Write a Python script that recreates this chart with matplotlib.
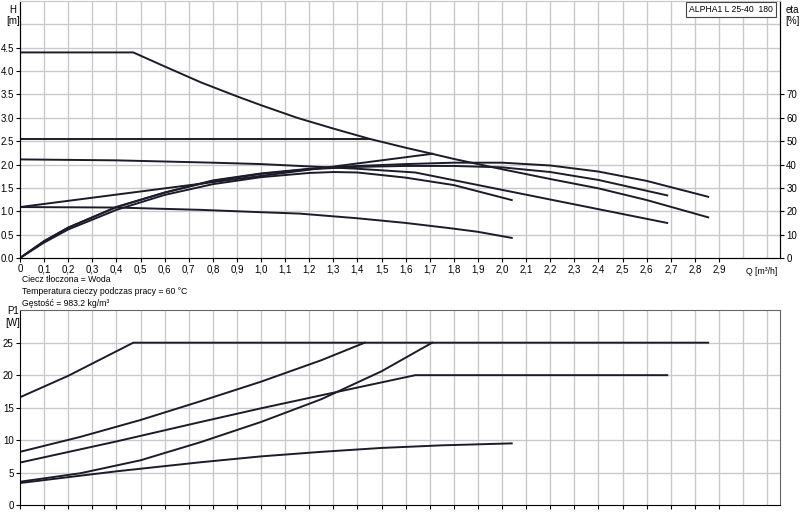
import matplotlib
matplotlib.use("Agg")
import matplotlib.pyplot as plt
import numpy as np

plt.rcParams["font.family"] = ["Liberation Sans", "DejaVu Sans"]

LINE = "#1b1b2a"
GRID = "#c9c9c9"

# head curves H [m] vs Q [m3/h]
q_max = [0, 0.47, 0.6, 0.75, 0.9, 1.0, 1.15, 1.3, 1.45, 1.6, 1.71, 1.8, 1.9, 2.0, 2.2, 2.4, 2.6, 2.855]
h_max = [4.4, 4.4, 4.10, 3.76, 3.46, 3.27, 3.00, 2.77, 2.55, 2.36, 2.23, 2.12, 2.01, 1.90, 1.69, 1.49, 1.24, 0.87]
q_cp = [0, 1.45]
h_cp = [2.55, 2.55]
q_pp = [0, 1.71]
h_pp = [1.09, 2.23]
q_ii = [0, 0.4, 0.8, 1.0, 1.2, 1.4, 1.64, 2.685]
h_ii = [2.11, 2.09, 2.04, 2.01, 1.96, 1.91, 1.83, 0.75]
q_i = [0, 0.4, 0.75, 1.0, 1.16, 1.4, 1.6, 1.78, 1.9, 2.04]
h_i = [1.09, 1.08, 1.03, 0.98, 0.95, 0.85, 0.75, 0.64, 0.56, 0.43]

# efficiency curves eta [%]
q_eta_max = [0, 0.1, 0.2, 0.4, 0.6, 0.8, 1.0, 1.2, 1.4, 1.6, 1.8, 2.0, 2.2, 2.4, 2.6, 2.855]
eta_max = [0, 7.2, 13, 21.8, 28, 33.2, 36.2, 38.2, 39.4, 40.2, 40.8, 40.8, 39.6, 37, 33, 26.2]
q_eta_ii = [0, 0.1, 0.2, 0.4, 0.6, 0.8, 1.0, 1.2, 1.4, 1.6, 1.8, 2.0, 2.2, 2.4, 2.685]
eta_ii = [0, 7.2, 13, 21.8, 28, 33, 36, 38, 39, 39.4, 39.4, 38.8, 36.8, 33.4, 26.8]
q_eta_i = [0, 0.1, 0.2, 0.4, 0.6, 0.8, 1.0, 1.2, 1.3, 1.4, 1.6, 1.8, 2.04]
eta_i = [0, 6.6, 12.2, 20.6, 27.0, 31.6, 34.6, 36.4, 36.8, 36.6, 34.4, 31.2, 24.8]

# power curves P1 [W]
q_p_max = [0, 0.2, 0.47, 2.855]
p_max = [16.6, 19.9, 25, 25]
q_p_cp = [0, 0.25, 0.5, 0.75, 1.0, 1.25, 1.43]
p_cp = [8.2, 10.5, 13.1, 16.0, 19.0, 22.3, 25.0]
q_p_ii = [0, 0.4, 0.75, 1.0, 1.3, 1.64, 2.685]
p_ii = [6.55, 9.8, 12.8, 14.9, 17.3, 20.0, 20.0]
q_p_pp = [0, 0.25, 0.5, 0.75, 1.0, 1.25, 1.5, 1.71]
p_pp = [3.6, 4.9, 6.9, 9.7, 12.8, 16.3, 20.6, 25.0]
q_p_i = [0, 0.4, 0.75, 1.0, 1.25, 1.5, 1.75, 2.04]
p_i = [3.4, 5.2, 6.6, 7.5, 8.2, 8.8, 9.2, 9.5]

q_ticks = [round(0.1 * k, 1) for k in range(30)]
q_labels = ["0"] + [f"{v:.1f}".replace(".", ",") for v in q_ticks[1:]]
XMAX = 3.153

fig = plt.figure(figsize=(8, 5.17), dpi=100)
ax = fig.add_axes([0.025, 0.501, 0.95, 0.497])
ax_eta = ax.twinx()
axp = fig.add_axes([0.025, 0.023, 0.95, 0.377])

for a in (ax, axp):
    a.set_xlim(0, XMAX)
    for v in np.arange(0.1, 3.15, 0.1):
        a.axvline(v, color=GRID, lw=1, zorder=0)
    a.tick_params(axis="both", labelsize=7, length=3, width=0.8, pad=1.5)

ax.set_ylim(0, 5.5)
for v in np.arange(0.5, 5.1, 0.5):
    ax.axhline(v, color=GRID, lw=1, zorder=0)
ax.set_yticks(np.arange(0, 4.6, 0.5))
ax.set_yticklabels([f"{v:.1f}" for v in np.arange(0, 4.6, 0.5)])
ax.set_xticks(q_ticks)
ax.set_xticklabels(q_labels)
ax.text(3.01, -0.2, "Q [m³/h]", fontsize=6.2, ha="left", va="top")

ax_eta.set_ylim(0, 110)
ax_eta.set_yticks(range(0, 71, 10))
ax_eta.tick_params(axis="y", labelsize=7, length=3, width=0.8, pad=1.5)

for q, h in [(q_max, h_max), (q_cp, h_cp), (q_pp, h_pp), (q_ii, h_ii), (q_i, h_i)]:
    ax.plot(q, h, color=LINE, lw=1.4, solid_joinstyle="miter")
for q, e in [(q_eta_max, eta_max), (q_eta_ii, eta_ii), (q_eta_i, eta_i)]:
    ax_eta.plot(q, e, color=LINE, lw=1.4)

for side in ("left", "bottom", "right"):
    ax.spines[side].set_color("black")
    ax_eta.spines[side].set_color("black")
ax.spines["top"].set_color(GRID)
ax_eta.spines["top"].set_color(GRID)

axp.set_ylim(0, 30)
for v in range(5, 26, 5):
    axp.axhline(v, color=GRID, lw=1, zorder=0)
axp.set_yticks(range(0, 26, 5))
axp.set_xticks(q_ticks)
axp.set_xticklabels([])
axp.spines["top"].set_color("#666666")
axp.spines["right"].set_color("#666666")
for q, p in [(q_p_max, p_max), (q_p_cp, p_cp), (q_p_ii, p_ii), (q_p_pp, p_pp), (q_p_i, p_i)]:
    axp.plot(q, p, color=LINE, lw=1.4)

fig.text(0.016, 0.99, "H", fontsize=7, ha="center", va="top")
fig.text(0.016, 0.97, "[m]", fontsize=7, ha="center", va="top")
fig.text(0.99, 0.99, "eta", fontsize=7, ha="center", va="top")
fig.text(0.99, 0.97, "[%]", fontsize=7, ha="center", va="top")
fig.text(0.016, 1 - 311 / 517, "P1", fontsize=7, ha="center", va="center")
fig.text(0.016, 1 - 323 / 517, "[W]", fontsize=7, ha="center", va="center")

fig.text(0.9665, 0.99, "ALPHA1 L 25-40  180", fontsize=6.2, ha="right", va="top",
         bbox=dict(boxstyle="square,pad=0.35", fc="white", ec="#444444", lw=0.8))

info = ["Ciecz tłoczona = Woda",
        "Temperatura cieczy podczas pracy = 60 °C",
        "Gęstość = 983.2 kg/m³"]
for k, line in enumerate(info):
    fig.text(0.027, 1 - (280 + k * 11.5) / 517, line, fontsize=6.2, ha="left", va="center")

fig.savefig("out.png", dpi=100)
